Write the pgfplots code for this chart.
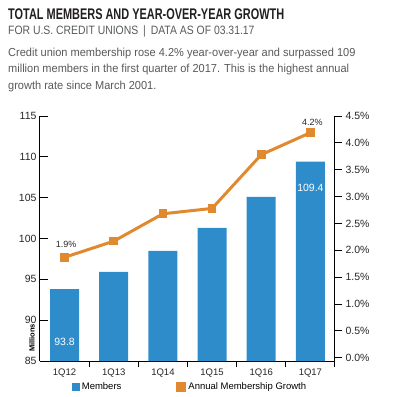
\documentclass[border=0pt]{standalone}
\usepackage{pgfplots}
\pgfplotsset{compat=1.18}
\usepackage{fontspec}
\setmainfont{Liberation Sans}
\newfontfamily\titlefont{Liberation Sans}[FakeStretch=0.71]
\newfontfamily\subfont{Liberation Sans}[FakeStretch=0.86]
\newfontfamily\bodyfont{Liberation Sans}[FakeStretch=0.95]
\definecolor{blueC}{HTML}{2F8CCB}
\definecolor{orangeC}{HTML}{E0892F}
\definecolor{grayT}{HTML}{58595B}
\definecolor{titleC}{HTML}{231F20}
\begin{document}
\begin{tikzpicture}
\useasboundingbox (0,0) rectangle (412bp,-397bp);
\node[anchor=base west, inner sep=0, text=titleC, font=\titlefont\bfseries\fontsize{15.4bp}{18bp}\selectfont] at (8bp,-19bp) {TOTAL MEMBERS AND YEAR-OVER-YEAR GROWTH};
\node[anchor=base west, inner sep=0, text=grayT, font=\subfont\fontsize{12.1bp}{14bp}\selectfont] at (8bp,-34.7bp) {FOR U.S. CREDIT UNIONS \,|\, DATA AS OF 03.31.17};
\node[anchor=base west, inner sep=0, text=grayT, font=\bodyfont\fontsize{11.6bp}{14bp}\selectfont] at (8bp,-56bp) {Credit union membership rose 4.2\% year-over-year and surpassed 109};
\node[anchor=base west, inner sep=0, text=grayT, font=\bodyfont\fontsize{11.6bp}{14bp}\selectfont] at (8bp,-72.5bp) {million members in the first quarter of 2017. This is the highest annual};
\node[anchor=base west, inner sep=0, text=grayT, font=\bodyfont\fontsize{11.6bp}{14bp}\selectfont] at (8bp,-89bp) {growth rate since March 2001.};

\begin{axis}[
  at={(40bp,-361bp)}, anchor=south west, scale only axis,
  width=295bp, height=245bp,
  xmin=-0.5, xmax=5.5, ymin=85, ymax=115,
  axis x line*=bottom, axis y line*=left,
  axis line style={line width=1bp, -},
  xtick={0,1,2,3,4,5},
  xticklabels={1Q12,1Q13,1Q14,1Q15,1Q16,1Q17},
  minor xtick={0.5,1.5,2.5,3.5,4.5,5.5},
  every major x tick/.append style={draw=none},
  ytick={85,90,95,100,105,110,115},
  tick align=inside,
  major tick length=8bp, minor tick length=6bp,
  tick style={black, line width=1bp},
  /pgf/number format/assume math mode=true,
  yticklabel style={font=\fontsize{10.5bp}{12bp}\selectfont, text=black!85},
  xticklabel style={font=\fontsize{9.5bp}{11bp}\selectfont, text=black!85, yshift=3.3bp},
  ybar, bar width=29bp,
]
\addplot[draw=none, fill=blueC] coordinates {(0,93.8) (1,95.9) (2,98.5) (3,101.3) (4,105.1) (5,109.4)};
\node[text=white, font=\fontsize{10.5bp}{12bp}\selectfont] at (axis cs:0,87.3) {93.8};
\node[text=white, font=\fontsize{10.5bp}{12bp}\selectfont] at (axis cs:5,106.25) {109.4};
\end{axis}
\node[rotate=90, font=\bfseries\fontsize{7.5bp}{9bp}\selectfont] at (32bp,-338bp) {Millions};

\begin{axis}[
  at={(40bp,-361bp)}, anchor=south west, scale only axis,
  width=295bp, height=245bp,
  xmin=-0.5, xmax=5.5, ymin=-0.06, ymax=4.5,
  axis y line*=right, axis x line=none,
  axis line style={line width=1bp, -},
  ytick={0,0.5,1,1.5,2,2.5,3,3.5,4,4.5},
  yticklabel={\pgfmathprintnumber[fixed,fixed zerofill,precision=1]{\tick}\%},
  tick align=outside, major tick length=7bp,
  tick style={black, line width=1bp},
  /pgf/number format/assume math mode=true,
  yticklabel style={font=\fontsize{10.5bp}{12bp}\selectfont, text=black!85},
  clip=false,
  legend style={at={(0.5095,-0.105)}, anchor=center, draw=none, fill=none,
    font=\fontsize{9.5bp}{11bp}\selectfont, inner sep=0pt,
    /tikz/every even column/.append style={column sep=53bp}},
  legend columns=2,
]
\addlegendimage{legend image code/.code={\fill[blueC] (0bp,-3.5bp) rectangle (7bp,3.5bp);}}
\addlegendentry{Members}
\addplot[orangeC, line width=3bp, mark=square*, mark size=3.8bp, mark options={solid, fill=orangeC, draw=orangeC, line width=0pt},
  legend image code/.code={\fill[orangeC] (0bp,-3.5bp) rectangle (7bp,3.5bp);}]
  coordinates {(0,1.87) (1,2.17) (2,2.68) (3,2.78) (4,3.78) (5,4.19)};
\addlegendentry{Annual Membership Growth}
\node[font=\fontsize{9bp}{11bp}\selectfont, text=black!85] at (axis cs:0,1.87) [xshift=1.5bp, yshift=13bp] {1.9\%};
\node[font=\fontsize{9bp}{11bp}\selectfont, text=black!85] at (axis cs:5,4.19) [xshift=2bp, yshift=10.5bp] {4.2\%};
\end{axis}
\end{tikzpicture}
\end{document}
